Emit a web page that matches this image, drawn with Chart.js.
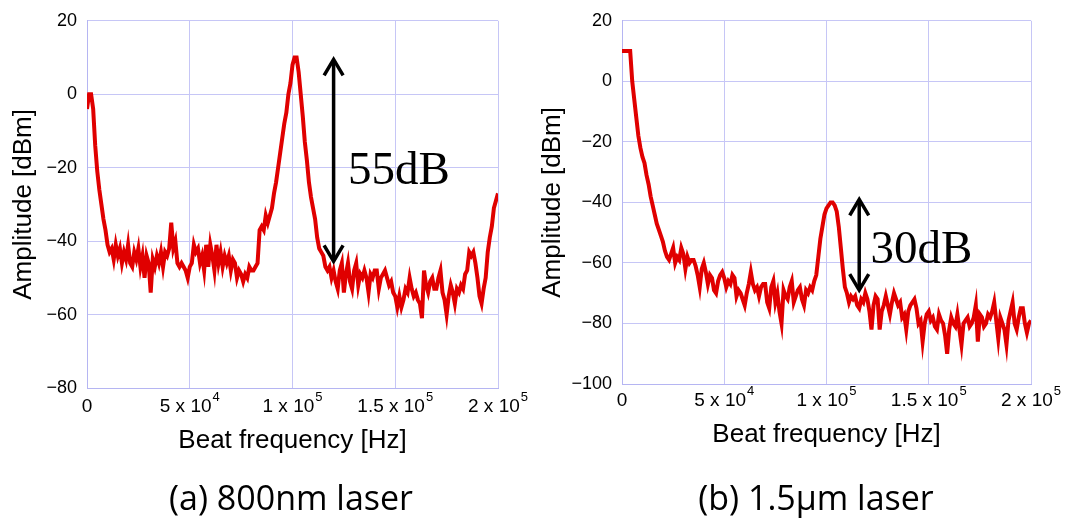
<!DOCTYPE html>
<html>
<head>
<meta charset="utf-8">
<script src="https://cdn.jsdelivr.net/npm/chart.js@4.4.1/dist/chart.umd.min.js"></script>
<style>
  html, body { margin: 0; padding: 0; background: #fff; }
  #wrap { position: relative; width: 1067px; height: 530px; overflow: hidden; }
  .panel { position: absolute; top: 0; height: 530px; }
  .caption {
    position: absolute; top: 476px; line-height: 42px;
    font-family: "Open Sans", "Noto Sans", sans-serif; font-size: 34px; color: #000;
    white-space: nowrap; transform: translateX(-50%);
  }
</style>
</head>
<body>
<div id="wrap">
  <div class="panel" style="left:0;width:533px"><canvas id="spec800" width="533" height="530"></canvas></div>
  <div class="panel" style="left:533px;width:534px"><canvas id="spec1550" width="534" height="530"></canvas></div>
  <div class="caption" style="left:291px">(a) 800nm laser</div>
  <div class="caption" style="left:816px">(b) 1.5μm laser</div>
</div>
<script>
// Beat spectra, one value per 1 kHz bin from 0 Hz to 200 kHz (dBm).
const sampleStepHz = 1000;

const amp800nm = [
  -4, 0, 0, -4, -14, -21, -26, -30, -34, -37,
  -41, -43, -42, -45, -41, -44, -42, -46, -43, -45,
  -41, -46, -47, -43, -45, -42, -47, -44, -50, -44,
  -46, -54, -45, -47, -44, -46, -43, -47, -43, -44,
  -42, -35, -42, -40, -46, -47, -46, -47, -48, -50,
  -47, -46, -41, -43, -42, -46, -44, -48, -41, -47,
  -41, -44, -48, -41, -46, -43, -47, -44, -46, -44,
  -48, -45, -46, -50, -48, -49, -51, -49, -50, -47,
  -48, -48, -47, -46, -37, -36, -37, -33, -35, -33,
  -31, -27, -24, -20, -16, -12, -8, -5, 0, 3,
  8, 10, 10, 6, 0, -6, -13, -18, -24, -28,
  -31, -34, -39, -42, -43, -44, -47, -48, -47, -50,
  -48, -51, -53, -48, -46, -54, -49, -46, -51, -53,
  -48, -46, -52, -49, -50, -48, -50, -54, -49, -50,
  -48, -48, -53, -50, -49, -48, -50, -52, -51, -54,
  -55, -58, -55, -58, -56, -53, -54, -50, -53, -55,
  -54, -56, -57, -61, -48, -52, -54, -51, -50, -53,
  -53, -50, -48, -54, -56, -60, -55, -52, -54, -57,
  -53, -54, -52, -53, -49, -48, -43, -44, -43, -46,
  -50, -55, -57, -53, -50, -43, -39, -36, -31, -29,
  -27
];

const amp1550nm = [
  10, 10, 10, 10, 10, 0, -6, -12, -18, -22,
  -25, -27, -31, -34, -38, -41, -44, -47, -49, -51,
  -53, -56, -58, -59, -57, -55, -60, -58, -59, -55,
  -57, -62, -58, -60, -59, -59, -61, -64, -68, -62,
  -60, -63, -67, -64, -65, -69, -70, -66, -64, -63,
  -65, -68, -66, -67, -64, -65, -71, -69, -70, -72,
  -74, -70, -67, -63, -67, -69, -68, -71, -68, -67,
  -67, -73, -75, -68, -66, -73, -70, -76, -80, -69,
  -71, -72, -68, -66, -73, -71, -69, -68, -72, -74,
  -69, -70, -68, -69, -66, -64, -58, -52, -48, -44,
  -42, -41, -40, -40, -41, -43, -48, -55, -62, -68,
  -70, -73, -71, -72, -71, -74, -75, -72, -73, -70,
  -72, -76, -82, -74, -71, -72, -82, -76, -74, -71,
  -74, -77, -73, -70, -72, -74, -73, -78, -77, -82,
  -76, -74, -73, -72, -75, -80, -79, -86, -80, -77,
  -76, -79, -78, -81, -82, -77, -79, -80, -84, -90,
  -82, -78, -80, -81, -77, -82, -87, -80, -79, -78,
  -81, -80, -78, -74, -86, -77, -78, -81, -80, -77,
  -78, -76, -73, -79, -85, -78, -80, -82, -87, -79,
  -76, -73, -80, -82, -78, -75, -75, -80, -83, -80,
  -79
];

// Frequency axis ticks, written as mantissa x 10^exponent
const xTickValues = [0, 50000, 100000, 150000, 200000];
const xTickMantissa = ['0', '5', '1', '1.5', '2'];
const xTickExponent = ['', '4', '5', '5', '5'];

// Peak-to-floor markers
const marker800 = { freq: 120000, top: 9.5, spanDb: 55, text: '55dB', textFreq: 127000, textDb: -24.5 };
const marker1550 = { freq: 116000, top: -39, spanDb: 30, text: '30dB', textFreq: 121500, textDb: -60 };

const lineRed = '#e00000';
const gridBlue = '#c6c6f6';
const frameBlue = '#b5b5f2';
const sansFont = '"Liberation Sans", Arial, sans-serif';

// Draws the superscripted frequency tick labels and the double-headed span arrow
const panelDecor = {
  id: 'panelDecor',
  afterDraw(chart, args, opts) {
    const { ctx, chartArea } = chart;
    const xs = chart.scales.x, ys = chart.scales.y;
    ctx.save();
    ctx.fillStyle = '#000';
    ctx.textBaseline = 'alphabetic';
    ctx.textAlign = 'left';
    const baseY = chartArea.bottom + opts.tickBaseline;
    xTickValues.forEach((v, i) => {
      const exp = xTickExponent[i];
      const base = exp ? xTickMantissa[i] + ' x 10' : xTickMantissa[i];
      ctx.font = '19px ' + sansFont;
      const wb = ctx.measureText(base).width;
      ctx.font = '13px ' + sansFont;
      const we = exp ? ctx.measureText(exp).width + 1 : 0;
      const left = xs.getPixelForValue(v) - (wb + we) / 2;
      ctx.font = '19px ' + sansFont;
      ctx.fillText(base, left, baseY);
      if (exp) {
        ctx.font = '13px ' + sansFont;
        ctx.fillText(exp, left + wb + 1, baseY - 11);
      }
    });

    const m = opts.marker;
    const ax = xs.getPixelForValue(m.freq);
    const yTop = ys.getPixelForValue(m.top);
    const yBot = ys.getPixelForValue(m.top - m.spanDb);
    ctx.strokeStyle = '#000';
    ctx.lineWidth = 3.5;
    ctx.lineJoin = 'miter';
    ctx.lineCap = 'butt';
    ctx.beginPath();
    ctx.moveTo(ax, yTop + 2);
    ctx.lineTo(ax, yBot - 2);
    ctx.stroke();
    ctx.beginPath();
    ctx.moveTo(ax - 9.5, yTop + 16);
    ctx.lineTo(ax, yTop);
    ctx.lineTo(ax + 9.5, yTop + 16);
    ctx.stroke();
    ctx.beginPath();
    ctx.moveTo(ax - 9.5, yBot - 16);
    ctx.lineTo(ax, yBot);
    ctx.lineTo(ax + 9.5, yBot - 16);
    ctx.stroke();

    ctx.font = '47px "Liberation Serif", "DejaVu Serif", serif';
    ctx.fillText(m.text, xs.getPixelForValue(m.textFreq), ys.getPixelForValue(m.textDb));
    ctx.restore();
  }
};

function makePanel(id, amps, yMin, yMax, geom, marker) {
  const points = amps.map((v, i) => ({ x: i * sampleStepHz, y: v }));
  return new Chart(document.getElementById(id), {
    type: 'line',
    data: {
      datasets: [{
        data: points,
        borderColor: lineRed,
        borderWidth: 4,
        pointRadius: 0,
        tension: 0,
        fill: false
      }]
    },
    options: {
      responsive: false,
      animation: false,
      events: [],
      layout: { padding: { top: geom.top, left: 0, right: geom.right, bottom: geom.bottom } },
      plugins: {
        legend: { display: false },
        tooltip: { enabled: false },
        panelDecor: { marker: marker, tickBaseline: geom.tickBaseline }
      },
      scales: {
        x: {
          type: 'linear',
          min: 0,
          max: 200000,
          ticks: { display: false, stepSize: 50000 },
          grid: { color: gridBlue, lineWidth: 1, drawTicks: false },
          border: { color: frameBlue, width: 1 },
          title: {
            display: true,
            text: 'Beat frequency [Hz]',
            color: '#000',
            font: { family: sansFont, size: 26 },
            padding: { top: 0, bottom: 0 }
          },
          afterFit(scale) { scale.height = geom.xAxisH; }
        },
        y: {
          type: 'linear',
          min: yMin,
          max: yMax,
          ticks: {
            stepSize: 20,
            padding: 10,
            color: '#000',
            font: { family: sansFont, size: 18 },
            callback: (v) => String(v).replace('-', '\u2212')
          },
          grid: { color: gridBlue, lineWidth: 1, drawTicks: false },
          border: { color: frameBlue, width: 1 },
          title: {
            display: true,
            text: 'Amplitude [dBm]',
            color: '#000',
            font: { family: sansFont, size: 26 },
            padding: { top: geom.yTitlePad, bottom: 0 }
          },
          afterFit(scale) { scale.width = geom.yAxisW; }
        }
      }
    },
    plugins: [panelDecor]
  });
}

makePanel('spec800', amp800nm, -80, 20,
  { top: 19, right: 35, bottom: 74, xAxisH: 68, yAxisW: 87, yTitlePad: 8, tickBaseline: 24 },
  marker800);

makePanel('spec1550', amp1550nm, -100, 20,
  { top: 19, right: 36, bottom: 80, xAxisH: 66, yAxisW: 89, yTitlePad: 4, tickBaseline: 22 },
  marker1550);
</script>
</body>
</html>
